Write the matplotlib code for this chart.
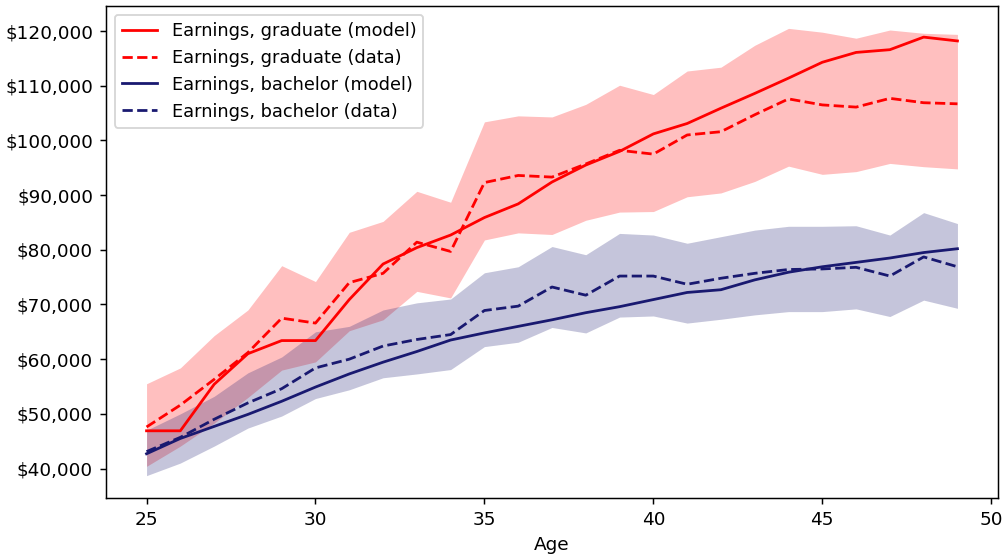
import numpy as np
import matplotlib
matplotlib.use("Agg")
from matplotlib import pyplot as plt
from matplotlib.ticker import FuncFormatter

# =============================================================================
# Data
# =============================================================================

ages = list(range(25, 50))

grad_model = [46900, 46900, 55400, 61000, 63400, 63400, 70900, 77400, 80400, 82700,
              85900, 88400, 92400, 95500, 98000, 101200, 103100, 105900, 108600, 111400,
              114300, 116100, 116600, 118900, 118200]
grad_data = [47600, 51600, 56300, 61200, 67500, 66600, 74000, 75700, 81400, 79700,
             92300, 93600, 93300, 95700, 98200, 97500, 101000, 101600, 104700, 107600,
             106500, 106100, 107700, 106900, 106700]
grad_hi = [55500, 58400, 64300, 69000, 77100, 74200, 83200, 85200, 90700, 88700,
           103400, 104500, 104300, 106600, 110100, 108400, 112700, 113400, 117400, 120500,
           119800, 118700, 120200, 119600, 119400]
grad_lo = [40400, 44100, 48300, 53000, 58000, 59500, 65200, 67200, 72400, 71200,
           81800, 83100, 82800, 85400, 86900, 87000, 89700, 90400, 92500, 95300,
           93800, 94300, 95800, 95200, 94800]

bach_model = [42700, 45500, 47700, 49900, 52300, 54900, 57300, 59450, 61400, 63500,
              64800, 66000, 67200, 68500, 69600, 70900, 72200, 72700, 74500, 75900,
              76900, 77700, 78500, 79500, 80200]
bach_data = [43100, 45700, 49000, 52000, 54600, 58400, 60000, 62400, 63600, 64500,
             68900, 69700, 73200, 71700, 75200, 75200, 73700, 74800, 75700, 76400,
             76500, 76800, 75200, 78700, 76900]
bach_hi = [47000, 50000, 53200, 57500, 60400, 65000, 66000, 69000, 70300, 71000,
           75800, 76900, 80600, 79100, 83000, 82700, 81200, 82400, 83600, 84300,
           84300, 84400, 82700, 86800, 84800]
bach_lo = [38700, 41000, 44100, 47400, 49600, 52800, 54400, 56600, 57300, 58100,
           62300, 63100, 65800, 64800, 67700, 67900, 66600, 67300, 68100, 68700,
           68700, 69200, 67800, 70800, 69300]

GRAD_COLOR = "red"
BACH_COLOR = "midnightblue"

# =============================================================================
# Plot
# =============================================================================

DPI = 133
fig, ax = plt.subplots(figsize=(1005 / DPI, 556 / DPI), dpi=DPI)
fig.subplots_adjust(left=106 / 1005, right=998 / 1005, top=1 - 6 / 556, bottom=1 - 498 / 556)

# shaded bands first, lines on top
ax.fill_between(ages, grad_lo, grad_hi, color=GRAD_COLOR, alpha=0.25, linewidth=0)
ax.fill_between(ages, bach_lo, bach_hi, color=BACH_COLOR, alpha=0.25, linewidth=0)

ax.plot(ages, grad_model, color=GRAD_COLOR, label="Earnings, graduate (model)")
ax.plot(ages, grad_data, color=GRAD_COLOR, linestyle="--", label="Earnings, graduate (data)")
ax.plot(ages, bach_model, color=BACH_COLOR, label="Earnings, bachelor (model)")
ax.plot(ages, bach_data, color=BACH_COLOR, linestyle="--", label="Earnings, bachelor (data)")

ax.yaxis.set_major_formatter(FuncFormatter(lambda v, pos: f"${v:,.0f}"))
ax.set_xlabel("Age")
ax.legend(loc="upper left", fontsize=9.6)

plt.savefig("out.png", dpi=DPI)
